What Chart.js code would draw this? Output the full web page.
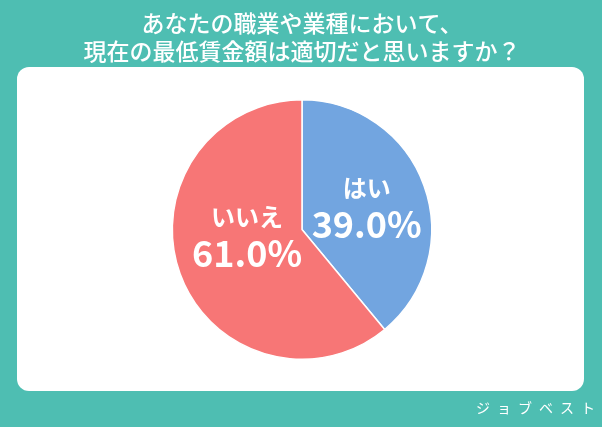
<!DOCTYPE html>
<html>
<head>
<meta charset="utf-8">
<script src="https://cdn.jsdelivr.net/npm/chart.js@4"></script>
<style>
    html, body { margin: 0; padding: 0; background: #4ebeb2; }
    #wrap { width: 602px; height: 427px; }
</style>
</head>
<body>
<div id="wrap"><canvas id="pieChart" width="602" height="427"></canvas></div>
<script>
const titleLines = ["あなたの職業や業種において、", "現在の最低賃金額は適切だと思いますか？"];
const answers = ["はい", "いいえ"];
const shares = [39.0, 61.0];
const sliceColors = ["#72a5e0", "#f77676"];
const brand = "ジョブベスト";

const TEAL = "#4ebeb2";
const JP_FONT = "'Noto Sans CJK JP', 'Noto Sans', sans-serif";

// teal background + white rounded panel
const panelPlugin = {
    id: "panel",
    beforeDraw(chart) {
        const ctx = chart.ctx;
        ctx.save();
        ctx.fillStyle = TEAL;
        ctx.fillRect(0, 0, chart.width, chart.height);
        ctx.fillStyle = "#ffffff";
        ctx.beginPath();
        ctx.roundRect(17, 67, 567, 324, 12);
        ctx.fill();
        ctx.restore();
    },
    afterDraw(chart) {
        const ctx = chart.ctx;
        ctx.save();
        ctx.fillStyle = "#ffffff";
        ctx.font = "14px " + JP_FONT;
        ctx.textAlign = "center";
        ctx.textBaseline = "middle";
        Array.from(brand).forEach((c, i) => {
            ctx.fillText(c, 483 + i * 21, 408);
        });
        ctx.restore();
    }
};

// labels inside the slices
const sliceLabels = {
    id: "sliceLabels",
    afterDatasetsDraw(chart, args, opts) {
        const ctx = chart.ctx;
        const meta = chart.getDatasetMeta(0);
        ctx.save();
        ctx.fillStyle = "#ffffff";
        ctx.textAlign = "center";
        ctx.textBaseline = "middle";
        meta.data.forEach((arc, i) => {
            const p = arc.getProps(["x", "y", "startAngle", "endAngle", "outerRadius"]);
            const mid = (p.startAngle + p.endAngle) / 2;
            const r = p.outerRadius * opts.radius[i];
            const cx = p.x + Math.cos(mid) * r + opts.shift[i][0];
            const cy = p.y + Math.sin(mid) * r + opts.shift[i][1];
            ctx.font = "bold 24px " + JP_FONT;
            ctx.fillText(answers[i], cx, cy - 18);
            ctx.font = "bold 36px " + JP_FONT;
            ctx.fillText(shares[i].toFixed(1) + "%", cx, cy + 18);
        });
        ctx.restore();
    }
};

new Chart(document.getElementById("pieChart"), {
    type: "pie",
    data: {
        labels: answers,
        datasets: [{
            data: shares,
            backgroundColor: sliceColors,
            borderColor: "#ffffff",
            borderWidth: 1.5
        }]
    },
    options: {
        responsive: false,
        animation: false,
        layout: { padding: { top: 0, bottom: 67, left: 2, right: 0 } },
        plugins: {
            legend: { display: false },
            tooltip: { enabled: false },
            title: {
                display: true,
                text: titleLines,
                color: "#ffffff",
                font: { family: JP_FONT, size: 23, weight: "500", lineHeight: 1.22 },
                padding: { top: 9, bottom: 34 }
            },
            sliceLabels: {
                radius: [0.53, 0.45],
                shift: [[0, 0], [0, -14]]
            }
        }
    },
    plugins: [panelPlugin, sliceLabels]
});
</script>
</body>
</html>
